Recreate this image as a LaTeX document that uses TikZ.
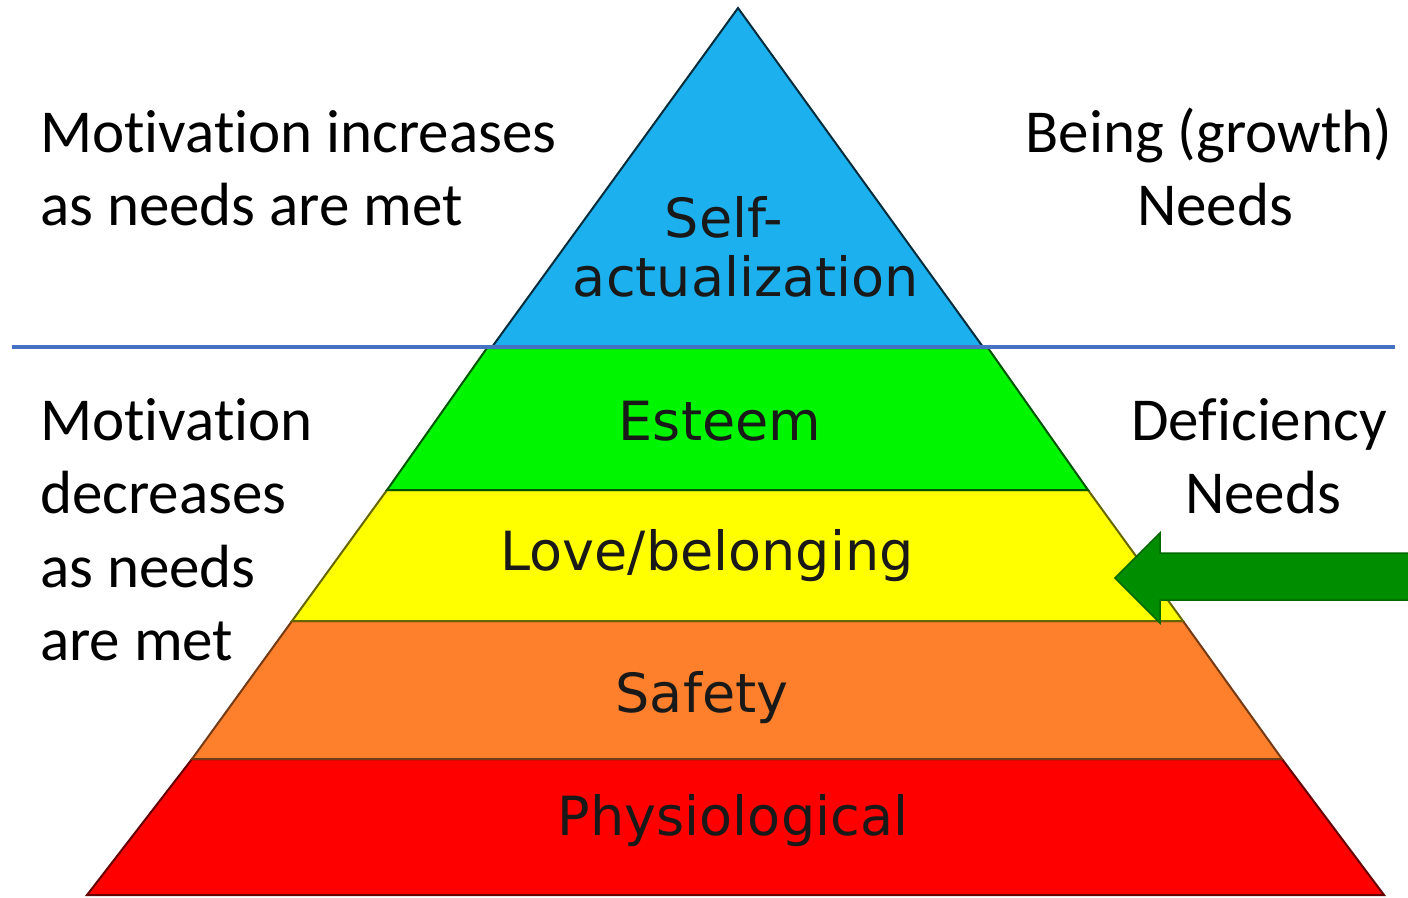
\documentclass[tikz,border=0pt]{standalone}
\usepackage{fontspec}
\newfontfamily\sidefont[Ligatures=NoCommon]{Carlito}
\newfontfamily\labfont{DejaVu Sans}
\definecolor{cblue}{RGB}{28,176,238}
\definecolor{cgreen}{RGB}{0,245,0}
\definecolor{cyellow}{RGB}{255,255,0}
\definecolor{corange}{RGB}{255,128,44}
\definecolor{cred}{RGB}{255,0,0}
\definecolor{lineblue}{RGB}{70,114,196}
\definecolor{arrowgreen}{RGB}{0,142,0}
\tikzset{
  layer/.style={line width=2pt, line join=miter},
  sidetext/.style={font=\sidefont\fontsize{61}{73}\selectfont, inner sep=0pt, text=black},
  labtext/.style={font=\labfont\fontsize{54}{59}\selectfont, inner sep=0pt, text=black!90},
}
\begin{document}
\begin{tikzpicture}[x=1pt,y=-1pt]
\useasboundingbox[fill=white] (0,0) rectangle (1408,897);
% layers
\draw[layer, fill=cred, draw=cred!40!black] (192,759) -- (1282,759) -- (1384,895) -- (87,895) -- cycle;
\draw[layer, fill=corange, draw=corange!45!black] (292,621) -- (1183,621) -- (1282,759) -- (192,759) -- cycle;
\draw[layer, fill=cyellow, draw=cyellow!40!black] (387,490) -- (1088,490) -- (1183,621) -- (292,621) -- cycle;
\draw[layer, fill=cgreen, draw=cgreen!35!black] (487,348) -- (988,348) -- (1088,490) -- (387,490) -- cycle;
\draw[layer, fill=cblue, draw=cblue!25!black] (738,8) -- (983,347) -- (492,347) -- cycle;
% separator line
\coordinate (lineL) at (12,347);
\coordinate (lineR) at (1395,347);
\draw[lineblue, line width=4pt] (lineL) -- (lineR);
% arrow
\draw[fill=arrowgreen, draw=arrowgreen!75!black, line width=1.5pt, line join=miter]
  (1412,553) -- (1160,553) -- (1160,533) -- (1115,578) -- (1160,623) -- (1160,600) -- (1412,600) -- cycle;
% pyramid labels
\node[labtext, anchor=base] (self1) at (724,237) {Self-};
\node[labtext, anchor=base] (self2) at (746,296) {actualization};
\node[labtext, anchor=base] (esteem) at (720,440) {Esteem};
\node[labtext, anchor=base] (love) at (707,570) {Love/belonging};
\node[labtext, anchor=base] (safety) at (702,712) {Safety};
\node[labtext, anchor=base] (phys) at (733,835) {Physiological};
% side texts
\node[sidetext, anchor=base west] (inc1) at (40,152) {Motivation increases};
\node[sidetext, anchor=base west] (inc2) at (40,225) {as needs are met};
\node[sidetext, anchor=base west] (dec1) at (40,440) {Motivation};
\node[sidetext, anchor=base west] (dec2) at (40,513) {decreases};
\node[sidetext, anchor=base west] (dec3) at (40,587) {as needs};
\node[sidetext, anchor=base west] (dec4) at (40,660) {are met};
\node[sidetext, anchor=base] (being1) at (1209,152) {Being (growth)};
\node[sidetext, anchor=base] (being2) at (1215,225) {Needs};
\node[sidetext, anchor=base] (def1) at (1259,440) {Deficiency};
\node[sidetext, anchor=base] (def2) at (1263,513) {Needs};
\end{tikzpicture}
\end{document}
